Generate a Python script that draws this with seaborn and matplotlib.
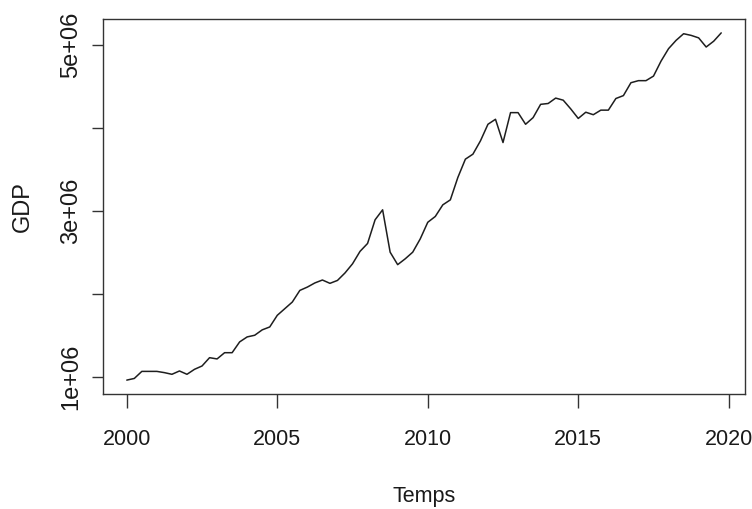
import numpy as np
import pandas as pd
import matplotlib
matplotlib.use("Agg")
import matplotlib.pyplot as plt
import seaborn as sns

# Quarterly time index 2000Q1 .. 2019Q4
years = np.arange(2000, 2020)
quarters = [0.0, 0.25, 0.5, 0.75]
gdp_millions = [
    0.96, 0.98, 1.065, 1.065,
    1.065, 1.05, 1.03, 1.07,
    1.03, 1.09, 1.13, 1.23,
    1.215, 1.29, 1.29, 1.42,
    1.48, 1.50, 1.565, 1.60,
    1.74, 1.82, 1.90, 2.04,
    2.08, 2.13, 2.165, 2.125,
    2.16, 2.25, 2.36, 2.51,
    2.605, 2.89, 3.01, 2.50,
    2.35, 2.42, 2.50, 2.66,
    2.86, 2.93, 3.07, 3.13,
    3.40, 3.62, 3.68, 3.84,
    4.04, 4.10, 3.82, 4.18,
    4.18, 4.04, 4.12, 4.28,
    4.29, 4.355, 4.33, 4.225,
    4.11, 4.185, 4.155, 4.21,
    4.21, 4.35, 4.385, 4.54,
    4.565, 4.565, 4.62, 4.80,
    4.95, 5.05, 5.13, 5.11,
    5.08, 4.97, 5.04, 5.14,
]
x_ticks = [2000, 2005, 2010, 2015, 2020]
y_ticks = [1e6, 2e6, 3e6, 4e6, 5e6]
y_tick_labels = ["1e+06", "", "3e+06", "", "5e+06"]
x_label = "Temps"
y_label = "GDP"

time = [y + q for y in years for q in quarters]
df = pd.DataFrame({"Temps": time, "GDP": np.array(gdp_millions) * 1e6})

sns.set_style("white")
plt.rcParams["font.family"] = ["Liberation Sans", "DejaVu Sans"]

fig = plt.figure(figsize=(7.52, 5.09), dpi=100)
ax = fig.add_axes([103 / 752, 1 - 394 / 509, 642 / 752, 375 / 509])

sns.lineplot(data=df, x="Temps", y="GDP", ax=ax, color="#1e1e1e", linewidth=1.1)

tmin, tmax = min(time), max(time)
dx = (tmax - tmin) * 0.04
ax.set_xlim(tmin - dx, tmax + dx)
vmin, vmax = df["GDP"].min(), df["GDP"].max()
dy = (vmax - vmin) * 0.04
ax.set_ylim(vmin - dy, vmax + dy)

ax.set_xticks(x_ticks)
ax.set_xticklabels([str(t) for t in x_ticks], fontsize=15.5, color="#1a1a1a")
ax.set_yticks(y_ticks)
ax.set_yticklabels(y_tick_labels, rotation=90, va="center", fontsize=17, color="#1a1a1a")

ax.tick_params(axis="x", direction="out", length=10, width=1.0, color="#333333", pad=15, bottom=True)
ax.tick_params(axis="y", direction="out", length=8, width=1.0, color="#333333", pad=7, left=True)

for s in ax.spines.values():
    s.set_visible(True)
    s.set_color("#333333")
    s.set_linewidth(1.0)

ax.set_xlabel(x_label, fontsize=15.5, color="#1a1a1a", labelpad=26)
ax.set_ylabel(y_label, fontsize=17, color="#1a1a1a", labelpad=19)
ax.grid(False)

fig.savefig("out.png", dpi=100, facecolor="white")
